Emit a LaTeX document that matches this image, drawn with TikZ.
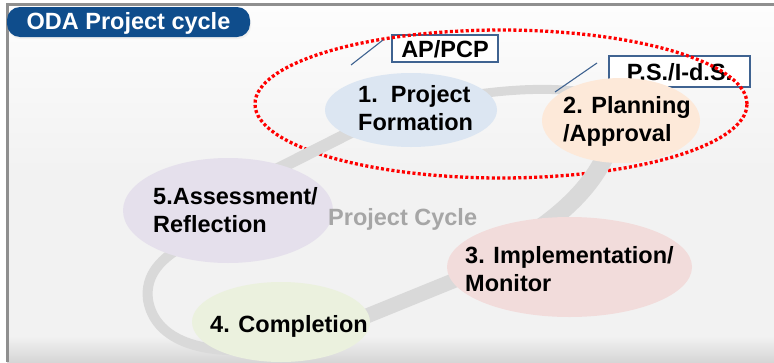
\documentclass[tikz,border=0pt]{standalone}
\usepackage{fontspec}
\setmainfont{Liberation Sans}
\usetikzlibrary{shapes.geometric}

\definecolor{titleblue}{HTML}{0F4D8C}
\definecolor{framegray}{HTML}{8F8F8F}
\definecolor{panelgray}{HTML}{F2F2F2}
\definecolor{paneltop}{HTML}{FDFDFD}
\definecolor{panelbottom}{HTML}{D6D6D6}
\definecolor{ringgray}{HTML}{D9D9D9}
\definecolor{tagblue}{HTML}{3F6391}
\definecolor{phaseA}{HTML}{DCE6F2}
\definecolor{phaseB}{HTML}{FDE9D9}
\definecolor{phaseC}{HTML}{F2DCDB}
\definecolor{phaseD}{HTML}{EBF1DE}
\definecolor{phaseE}{HTML}{E5E0EC}
\definecolor{cyclegray}{HTML}{A6A6A6}

% left-aligned block whose baseline is that of its first line
\newcommand{\phasetext}[1]{\begin{tabular}[t]{@{}l@{}}#1\end{tabular}}

\begin{document}
\begin{tikzpicture}[x=1pt, y=-1pt,
  font=\fontsize{23.5}{28}\selectfont\bfseries,
  phase/.style={ellipse, draw=none, inner sep=0pt},
  phaselabel/.style={anchor=base west, inner sep=0pt, text=black},
  ringband/.style={draw=ringgray, line cap=butt},
  tagbox/.style={draw=tagblue, line width=1.3pt, fill=white, inner sep=0pt,
                 text height=17pt, text depth=0pt},
  tagline/.style={draw=tagblue, line width=1.1pt},
  focusring/.style={ellipse, draw=red, line width=3.3pt,
                    dash pattern=on 3pt off 2.3pt, inner sep=0pt}]

\useasboundingbox (0,0) rectangle (774,362);

% panel background
\fill[white] (0,0) rectangle (774,362);
\shade[top color=paneltop, bottom color=panelgray] (7,4) rectangle (774,170);
\fill[panelgray] (7,170) rectangle (774,336);
\shade[top color=panelgray, bottom color=panelbottom] (7,336) rectangle (774,362);
\draw[framegray, line width=3pt] (7.5,362) -- (7.5,4.5) -- (774,4.5);

% title tab
\fill[black!6, rounded corners=13pt] (8,9) rectangle (251,39);
\node[fill=titleblue, rounded corners=13pt, minimum width=243pt, minimum height=30pt,
      inner sep=0pt, text=white, text height=17pt, text depth=2pt]
      (title) at (128.5,22) {ODA Project cycle};

% document tags
\node[tagbox, minimum width=106pt, minimum height=27pt] (ap) at (445,48.5) {AP/PCP};
\node[tagbox, minimum width=141pt, minimum height=31pt] (ps) at (679.5,71.5) {P.S./I-d.S.};

% highlighted formation/planning stage
\node[focusring, minimum width=492pt, minimum height=148pt] (focus) at (501,104) {};

% cycle band, segment by segment (ends hide under the phase ellipses)
\coordinate (r5out) at (250,183);
\coordinate (r1in)  at (385,115);
\coordinate (r1out) at (440,100);
\coordinate (r2in)  at (600,95);
\coordinate (r2out) at (612,140);
\coordinate (r3in)  at (530,235);
\coordinate (r3out) at (470,274);
\coordinate (r4in)  at (320,335);
\coordinate (r4out) at (245,350);
\coordinate (r5in)  at (190,242);
\draw[ringband, line width=12pt] (r5out) -- (r1in);
\draw[ringband, line width=9pt] (r1out) .. controls (490,91) and (550,84) .. (r2in);
\draw[ringband, line width=18pt] (r2out) .. controls (600,175) and (575,205) .. (r3in);
\draw[ringband, line width=15pt] (r3out) -- (r4in);
\draw[ringband, line width=10pt] (r4out) .. controls (200,352) and (155,340) .. (148,300)
      .. controls (145,275) and (160,258) .. (r5in);

% phases
\node[phase, fill=phaseA, minimum width=172pt, minimum height=74pt]  (e1) at (411,110) {};
\node[phase, fill=phaseB, minimum width=158pt, minimum height=85pt]  (e2) at (621,120.5) {};
\node[phase, fill=phaseC, minimum width=245pt, minimum height=100pt] (e3) at (569.5,267) {};
\node[phase, fill=phaseD, minimum width=178pt, minimum height=80pt]  (e4) at (281,322) {};
\node[phase, fill=phaseE, minimum width=210pt, minimum height=105pt] (e5) at (228,210.5) {};

\node[phaselabel] (t1) at (358,102) {\phasetext{1.\ \ Project\\Formation}};
\node[phaselabel] (t2) at (563,113) {\phasetext{2. Planning\\/Approval}};
\node[phaselabel] (t3) at (465,263) {\phasetext{3. Implementation/\\Monitor}};
\node[phaselabel] (t4) at (210,332) {4. Completion};
\node[phaselabel] (t5) at (153,204) {\phasetext{5.Assessment/\\Reflection}};
\node[phaselabel, text=cyclegray] (tc) at (328,225) {Project Cycle};

% tag leader lines
\coordinate (aptop)  at (383,40);
\coordinate (apfoot) at (351,65);
\coordinate (pstop)  at (597,63);
\coordinate (psfoot) at (555,92);
\draw[tagline] (aptop) -- (apfoot);
\draw[tagline] (pstop) -- (psfoot);

\end{tikzpicture}
\end{document}
